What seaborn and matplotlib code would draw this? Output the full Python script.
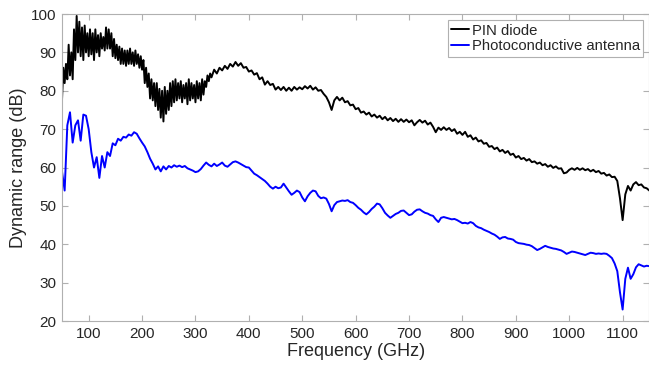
import numpy as np
import pandas as pd
import seaborn as sns
import matplotlib.pyplot as plt

# PIN diode: noisy low band read at 2.5 GHz, rest at 5 GHz
pin_freq = np.concatenate([np.arange(50, 330.1, 2.5), np.arange(335, 1151, 5)])
pin_diode = [
    # 50 - 330 GHz
    77.5, 86, 82, 87, 83, 92, 84, 90, 83, 96,
    88, 99.5, 90, 98, 89, 96.5, 88, 97, 90, 95,
    89, 96, 89.5, 95, 88, 96, 90, 94.5, 89, 95,
    91, 94, 90.5, 96.5, 91, 96, 91, 95, 89, 93.5,
    88.5, 92, 88, 91.5, 87, 91, 87, 90.5, 86.5, 90.5,
    87, 91, 87, 90, 86.5, 90.5, 87, 89.5, 86, 89,
    85.5, 88, 82, 86, 81, 84.5, 78, 83, 77.5, 82,
    76, 82, 75, 80.5, 73, 80, 72, 81, 74, 80,
    75, 82, 76, 82.5, 77, 83, 77.5, 82, 78, 82.5,
    77, 81.5, 78, 82, 76.5, 83, 77.5, 82, 78, 81.5,
    77, 82.5, 78, 82, 77.5, 83, 79, 82.5, 81, 84,
    82.5, 84.5, 83.5,
    # 335 - 1150 GHz
    85.5, 84.5, 86,
    85.3, 86.5, 85.7, 87, 86.3, 87.5, 86.5, 87.2, 86, 86.2,
    85, 85.3, 84.2, 84.6, 83, 83.5, 81.6, 82.5, 81.5, 81.8,
    80.3, 81, 80.2, 81, 80, 80.8, 80, 81, 80.3, 80.9,
    80.4, 81.2, 80.6, 81.3, 80.3, 80.9, 80, 80.2, 79.2, 78.4,
    77, 75, 77.5, 78.4, 77.5, 78.2, 77, 77.3, 76.2, 76.4,
    75.2, 75.5, 74.3, 74.6, 73.8, 74.3, 73.3, 73.8, 73, 73.5,
    72.6, 73.2, 72.3, 72.9, 72.1, 72.7, 71.9, 72.6, 71.9, 72.5,
    71.8, 72.3, 71, 71.8, 72.4, 71.7, 72.2, 71.2, 71.7, 70.6,
    69.2, 70.4, 69.8, 70.5, 69.8, 70.3, 69.5, 70, 68.8, 69.3,
    68.5, 69.3, 68, 68.4, 67.3, 67.8, 66.8, 67.1, 66.2, 66.4,
    65.4, 65.6, 64.8, 65.2, 64.2, 64.6, 63.8, 64.3, 63.3, 63.6,
    62.6, 63, 62.2, 62.5, 61.8, 62.2, 61.4, 61.6, 61, 61.3,
    60.6, 60.9, 60.2, 60.6, 59.9, 60.3, 59.7, 59.8, 58.5, 58.7,
    59.4, 59.8, 59.4, 59.9, 59.4, 59.8, 59.3, 59.6, 59, 59.4,
    58.8, 59.1, 58.4, 58.6, 57.9, 58.2, 57.5, 57.6, 56.5, 52,
    46.3, 53, 55.2, 54, 55.6, 56.2, 55.4, 55.6, 54.8, 54.6,
    54,
]

# photoconductive antenna, 5 GHz steps
pca_freq = np.arange(50, 1151, 5)
pc_antenna = [
    59, 54, 71, 74.4, 66.5, 71, 72.3, 67, 73.8, 73.5,
    70, 64, 60, 62.7, 57.3, 63, 60, 64, 63, 66.3,
    65.8, 67.5, 67, 68, 67.8, 68.6, 68.3, 69.2, 68.8, 67.6,
    66.5, 65.5, 64, 62.3, 61, 59.5, 60.3, 59, 60.3, 59.5,
    60.4, 60, 60.6, 60.2, 60.5, 60.1, 60.4, 59.8, 59.5, 59.2,
    58.8, 59, 59.6, 60.5, 61.3, 60.7, 60.3, 61, 60.4, 60.8,
    61.3, 60.5, 60.2, 60.8, 61.4, 61.6, 61.3, 60.9, 60.5, 60.1,
    60, 59.2, 58.4, 58, 57.5, 57, 56.5, 55.8, 55, 54.5,
    55, 54.6, 54.8, 55.8, 54.8, 53.8, 52.9, 53.4, 54, 53.6,
    52.2, 51.2, 52.5, 53.4, 54, 53.8, 52.6, 52, 52.2, 51.9,
    50.5, 48.6, 50.2, 51, 51.2, 51.4, 51.3, 51.5, 51, 50.8,
    50.2, 49.5, 49, 48.3, 47.8, 48.4, 49.2, 49.8, 50.6, 50.4,
    49.4, 48.2, 47.5, 46.9, 47.4, 47.9, 48.2, 48.7, 48.8, 48.2,
    47.6, 47.8, 48.5, 49, 49.1, 48.6, 48.2, 48, 47.6, 47.4,
    46.5, 45.8, 46.9, 47.1, 46.9, 46.7, 46.5, 46.6, 46.3, 45.9,
    45.5, 45.6, 45.4, 45.8, 45.5, 44.8, 44.4, 44.2, 43.8, 43.5,
    43.2, 42.8, 42.5, 42, 41.4, 41.8, 41.9, 41.5, 41.4, 41.2,
    40.6, 40.3, 40.2, 40.1, 39.9, 39.8, 39.5, 39, 38.5, 38.8,
    39.2, 39.6, 39.3, 39.1, 38.9, 38.8, 38.6, 38.4, 38, 37.5,
    37.8, 38.1, 38, 37.8, 37.6, 37.4, 37.2, 37.5, 37.8, 37.7,
    37.5, 37.6, 37.5, 37.6, 37.5, 37, 36.4, 35, 33, 27.5,
    23, 31, 33.9, 31, 32.2, 34, 34.8, 34.5, 34.2, 34.4,
    34.3,
]

xticks = np.arange(100, 1101, 100)
yticks = np.arange(20, 101, 10)

sns.set_style("white")
plt.rcParams['font.family'] = ['Liberation Sans', 'DejaVu Sans']

pin_df = pd.DataFrame({"freq": pin_freq, "dr": pin_diode})
pca_df = pd.DataFrame({"freq": pca_freq, "dr": pc_antenna})

fig = plt.figure(figsize=(6.49, 3.69), dpi=100)
ax = fig.add_axes([0.0955, 0.13, 0.905, 0.832])

sns.lineplot(data=pin_df, x="freq", y="dr", color="black", lw=1.4,
             label="PIN diode", ax=ax)
sns.lineplot(data=pca_df, x="freq", y="dr", color="#0000ff",
             lw=1.4, label="Photoconductive antenna", ax=ax)

ax.set_xlim(50, 1150)
ax.set_ylim(20, 100)
ax.set_xticks(xticks)
ax.set_yticks(yticks)
ax.tick_params(direction="in", length=4, width=0.8, color="#b0b0b0",
               labelsize=11, labelcolor="#262626", top=True, right=True,
               bottom=True, left=True, pad=4)
for sp in ax.spines.values():
    sp.set_color("#b0b0b0")
    sp.set_linewidth(0.8)

ax.set_xlabel("Frequency (GHz)", fontsize=13, color="#262626", labelpad=2)
ax.set_ylabel("Dynamic range (dB)", fontsize=13, color="#262626", labelpad=3)

leg = ax.legend(loc="upper right", fontsize=10.7, handlelength=1.2,
                handletextpad=0.15, borderpad=0.25, labelspacing=0.1,
                borderaxespad=0.4, fancybox=False, framealpha=1)
leg.get_frame().set_edgecolor("#b0b0b0")
leg.get_frame().set_linewidth(0.8)

fig.savefig("out.png", dpi=100)
